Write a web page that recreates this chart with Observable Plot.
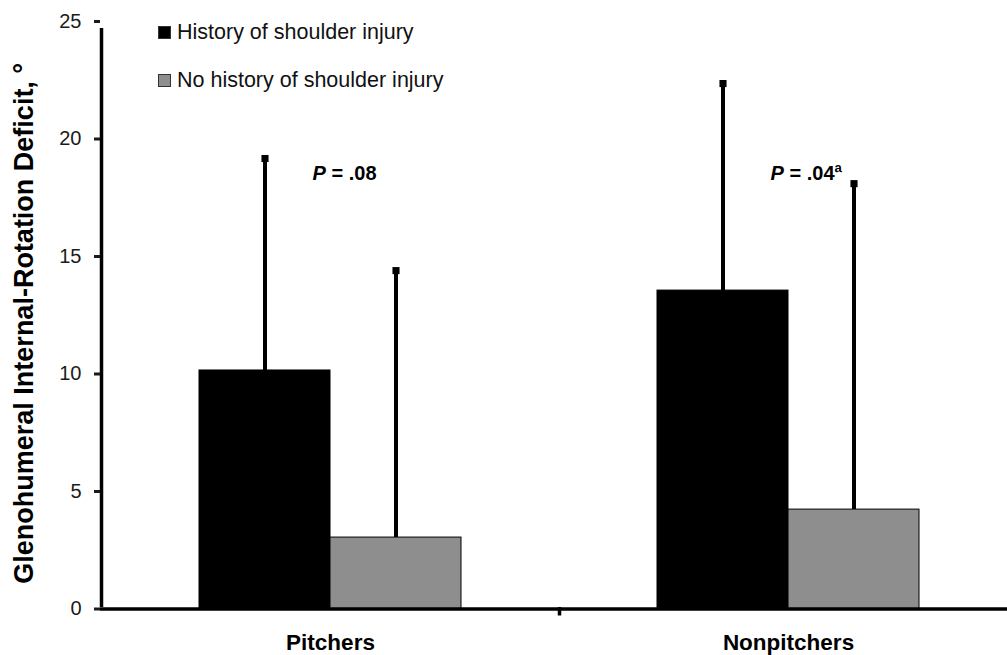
<!DOCTYPE html>
<html><head><meta charset="utf-8">
<script src="https://cdn.jsdelivr.net/npm/d3@7"></script>
<script src="https://cdn.jsdelivr.net/npm/@observablehq/plot@0.6"></script>
<style>
body{margin:0;background:#fff;overflow:hidden;font-family:"Liberation Sans",Arial,sans-serif}
#wrap{position:relative;width:1007px;height:655px}
#legend{position:absolute;left:158px;top:21px;font-size:21.5px;color:#111}
.row{display:flex;align-items:center;height:23px;margin-bottom:25px;white-space:nowrap}
.sw{width:13px;height:13px;margin-right:6px;box-sizing:border-box;border:1px solid #333}
</style></head><body><div id="wrap"><div id="legend"></div></div>
<script>
const categories = ["Pitchers", "Nonpitchers"];
const series = ["History of shoulder injury", "No history of shoulder injury"];
const seriesColors = ["#000000", "#8e8e8e"];
const injuredMean = [10.15, 13.55];
const injuredSD = [9.02, 8.81];
const uninjuredMean = [3.04, 4.23];
const uninjuredSD = [11.36, 13.87];
const pValues = [".08", ".04ª"];
const yTicks = [0, 5, 10, 15, 20, 25];
const yLabel = "Glenohumeral Internal-Rotation Deficit, °";

const rows = [];
categories.forEach((c, i) => {
  rows.push({cat: c, series: series[0], mean: injuredMean[i], sd: injuredSD[i]});
  rows.push({cat: c, series: series[1], mean: uninjuredMean[i], sd: uninjuredSD[i]});
});
const pRows = categories.map((c, i) => ({cat: c, p: "= " + pValues[i]}));

const W = 1007, H = 655;
const xRange = [101, 1017];
const step = (xRange[1] - xRange[0]) / categories.length;
const barW = 131;
const font = "Liberation Sans, Arial, sans-serif";

const s0 = rows.filter(d => d.series === series[0]);
const s1 = rows.filter(d => d.series === series[1]);

const chart = Plot.plot({
  width: W, height: H,
  marginLeft: 100, marginRight: 0, marginTop: 21, marginBottom: 46.5,
  style: {fontFamily: font, background: "#fff", color: "#000"},
  x: {type: "band", domain: categories, range: xRange, padding: 0},
  y: {domain: [0, 25]},
  marks: [
    Plot.barY(s0, {x: "cat", y: "mean", fill: seriesColors[0], stroke: "#000", strokeWidth: 1,
      insetLeft: step / 2 - barW, insetRight: step / 2}),
    Plot.barY(s1, {x: "cat", y: "mean", fill: seriesColors[1], stroke: "#000", strokeWidth: 1,
      insetLeft: step / 2, insetRight: step / 2 - barW}),
    Plot.ruleX(s0, {x: "cat", y1: "mean", y2: d => d.mean + d.sd, dx: -barW / 2, strokeWidth: 4, stroke: "#000"}),
    Plot.ruleX(s1, {x: "cat", y1: "mean", y2: d => d.mean + d.sd, dx: barW / 2, strokeWidth: 4, stroke: "#000"}),
    Plot.dot(s0, {x: "cat", y: d => d.mean + d.sd, dx: -barW / 2, symbol: "square", r: 4, fill: "#000"}),
    Plot.dot(s1, {x: "cat", y: d => d.mean + d.sd, dx: barW / 2, symbol: "square", r: 4, fill: "#000"}),
    Plot.ruleY([0], {strokeWidth: 3.5, stroke: "#000"}),
    Plot.ruleX(categories, {x: d => d, dx: -step / 2, y1: 0, y2: d => d === categories[0] ? 25 : 0,
      insetBottom: -7, insetTop: -1.5, strokeWidth: 3.5, stroke: "#000"}),
    Plot.axisY({ticks: yTicks, tickSize: 6, tickPadding: 13, strokeWidth: 3, fontSize: 20, label: null, color: "#1a1a1a"}),
    Plot.axisX({tickSize: 0, tickPadding: 25, fontSize: 22.5, fontWeight: "bold", label: null, color: "#000"}),
    Plot.text([yLabel], {frameAnchor: "left", textAnchor: "middle", rotate: -90, dx: -76, dy: 8,
      fontSize: 27, fontWeight: "bold", fill: "#000"}),
    Plot.text(pRows, {x: "cat", text: () => "P", frameAnchor: "top", dy: 144, dx: -18, textAnchor: "start",
      fontSize: 20, fontWeight: "bold", fontStyle: "italic", fill: "#000"}),
    Plot.text(pRows, {x: "cat", text: "p", frameAnchor: "top", dy: 144, dx: 1, textAnchor: "start",
      fontSize: 20, fontWeight: "bold", fill: "#000"})
  ]
});
const wrap = document.getElementById("wrap");
wrap.insertBefore(chart, wrap.firstChild);

const legend = document.getElementById("legend");
series.forEach((s, i) => {
  const row = document.createElement("div");
  row.className = "row";
  const sw = document.createElement("span");
  sw.className = "sw";
  sw.style.background = seriesColors[i];
  const t = document.createElement("span");
  t.textContent = s;
  row.appendChild(sw); row.appendChild(t);
  legend.appendChild(row);
});
</script></body></html>
